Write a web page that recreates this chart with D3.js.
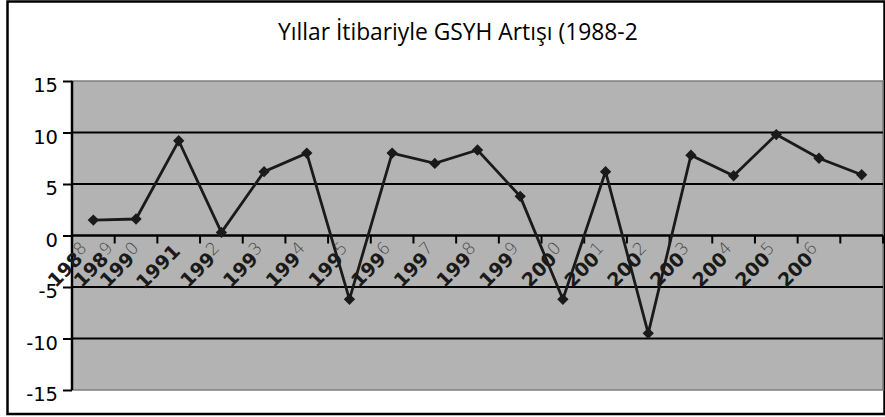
<!DOCTYPE html>
<html>
<head>
<meta charset="utf-8">
<script src="https://cdn.jsdelivr.net/npm/d3@7"></script>
<style>
  html, body { margin: 0; padding: 0; background: #fff; }
  svg { display: block; }
</style>
</head>
<body>
<svg id="chart" width="885" height="417"></svg>
<script>
// ---- data ----
const title = "Yıllar İtibariyle GSYH Artışı (1988-2006)";
const years = ["1988","1989","1990","1991","1992","1993","1994","1995","1996","1997",
               "1998","1999","2000","2001","2002","2003","2004","2005","2006"];
const growth = [1.5, 1.6, 9.2, 0.3, 6.2, 8.0, -6.2, 8.0, 7.0, 8.3,
                3.8, -6.2, 6.2, -9.5, 7.8, 5.8, 9.8, 7.5, 5.9];
const yTicks = [-15, -10, -5, 0, 5, 10, 15];
const fullyBoldLabels = ["1991"];

// ---- layout ----
const plot = { left: 72, right: 883, top: 81, bottom: 390 };
const svg = d3.select("#chart");

// outer frame
svg.append("rect")
  .attr("x", 7.5).attr("y", 1.5).attr("width", 877).attr("height", 412.5)
  .attr("fill", "#fff").attr("stroke", "#000").attr("stroke-width", 2.5);

// title (clipped like the original)
svg.append("clipPath").attr("id", "titleClip")
  .append("rect").attr("x", 0).attr("y", 0).attr("width", 638).attr("height", 60);
const titleText = svg.append("text")
  .attr("clip-path", "url(#titleClip)")
  .attr("x", 278).attr("y", 40)
  .attr("font-family", "'Open Sans', sans-serif")
  .attr("font-size", 20)
  .attr("fill", "#000")
  .text(title);
{
  const probe = svg.append("text").attr("font-family", "'Open Sans', sans-serif")
    .attr("font-size", 20).text(title.slice(0, title.indexOf("-") + 1));
  const w = probe.node().getComputedTextLength();
  probe.remove();
  titleText.attr("font-size", 20 * 347 / w);
}

// scales
const x = d3.scaleBand().domain(years).range([plot.left, plot.right]).padding(0);
const y = d3.scaleLinear().domain([-15, 15]).range([plot.bottom, plot.top]);
const cx = d => x(d) + x.bandwidth() / 2;

// plot background
svg.append("rect")
  .attr("x", plot.left).attr("y", plot.top)
  .attr("width", plot.right - plot.left).attr("height", plot.bottom - plot.top)
  .attr("fill", "#b3b3b3").attr("stroke", "#7f7f7f").attr("stroke-width", 1.5);

// gridlines
svg.append("g").selectAll("line")
  .data(yTicks.filter(t => t !== 0 && Math.abs(t) !== 15))
  .join("line")
  .attr("x1", plot.left).attr("x2", plot.right)
  .attr("y1", d => y(d)).attr("y2", d => y(d))
  .attr("stroke", "#000").attr("stroke-width", 2);

// y axis
const yAxis = svg.append("g")
  .attr("transform", `translate(${plot.left},0)`)
  .call(d3.axisLeft(y).tickValues(yTicks).tickSize(9).tickPadding(5).tickFormat(d => String(d)));
yAxis.select(".domain").attr("stroke", "#000").attr("stroke-width", 2.5)
  .attr("d", `M0,${plot.top}V${plot.bottom}`);
yAxis.selectAll(".tick line").attr("stroke", "#000").attr("stroke-width", 2);
yAxis.selectAll(".tick text")
  .attr("font-family", "'DejaVu Sans', sans-serif")
  .attr("font-size", 19.5)
  .attr("fill", "#000")
  .attr("dy", "0.55em");

// zero axis with downward ticks at band boundaries
const zeroY = y(0);
svg.append("line")
  .attr("x1", plot.left).attr("x2", plot.right)
  .attr("y1", zeroY).attr("y2", zeroY)
  .attr("stroke", "#000").attr("stroke-width", 2.5);
const boundaries = years.map(d => x(d)).concat([x(years[years.length - 1]) + x.bandwidth()]);
svg.append("g").selectAll("line")
  .data(boundaries.slice(1))
  .join("line")
  .attr("x1", d => d).attr("x2", d => d)
  .attr("y1", zeroY).attr("y2", zeroY + 8)
  .attr("stroke", "#000").attr("stroke-width", 2);

// x labels (rotated), pushed apart so they don't collide at the left
const labelPos = [];
years.forEach((d, i) => {
  let px = cx(d) - 40;
  if (i === 0) px = Math.max(px, cx(d) - 2);
  else px = Math.max(px, labelPos[i - 1] + 26);
  labelPos.push(px);
});
const labels = svg.append("g").selectAll("text")
  .data(years)
  .join("text")
  .attr("transform", (d, i) => `translate(${labelPos[i]},${zeroY + 17}) rotate(-45)`)
  .attr("text-anchor", "end")
  .attr("font-family", "'DejaVu Sans', sans-serif")
  .attr("font-size", 19)
  .attr("font-weight", "bold")
  .attr("fill", "#1a1a1a");
labels.each(function(d) {
  const t = d3.select(this);
  if (fullyBoldLabels.includes(d)) {
    t.append("tspan").text(d);
  } else {
    t.append("tspan").text(d.slice(0, 3));
    t.append("tspan").text(d.slice(3))
      .attr("dy", "-0.3em")
      .attr("font-weight", "300")
      .attr("font-family", "'DejaVu Sans', sans-serif")
      .attr("font-size", 17)
      .attr("fill", "#4a4a4a");
  }
});

// line
const line = d3.line().x((d, i) => cx(years[i])).y(d => y(d));
svg.append("path")
  .datum(growth)
  .attr("d", line)
  .attr("fill", "none")
  .attr("stroke", "#1a1a1a")
  .attr("stroke-width", 2.8)
  .attr("stroke-linejoin", "miter");

// markers (diamonds)
const diamond = d3.symbol().type(d3.symbolSquare).size(64);
svg.append("g").selectAll("path")
  .data(growth)
  .join("path")
  .attr("d", diamond)
  .attr("transform", (d, i) => `translate(${cx(years[i])},${y(d)}) rotate(45)`)
  .attr("fill", "#1a1a1a");
</script>
</body>
</html>
